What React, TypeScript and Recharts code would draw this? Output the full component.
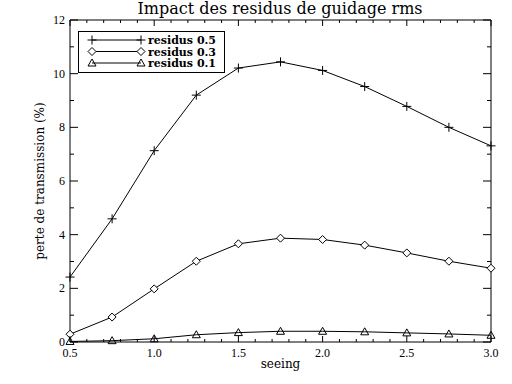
import React from 'react';
import { LineChart, Line, XAxis, YAxis, Legend } from 'recharts';

// seeing (arcsec) on x, transmission loss (%) on y
const seeing = [0.5, 0.75, 1.0, 1.25, 1.5, 1.75, 2.0, 2.25, 2.5, 2.75, 3.0];
const residus05 = [2.42, 4.59, 7.13, 9.2, 10.21, 10.44, 10.12, 9.52, 8.78, 8.0, 7.31];
const residus03 = [0.29, 0.93, 1.98, 3.01, 3.66, 3.87, 3.82, 3.61, 3.32, 3.01, 2.75];
const residus01 = [0.02, 0.05, 0.12, 0.27, 0.35, 0.4, 0.4, 0.38, 0.34, 0.3, 0.25];

const seriesNames = ['residus 0.5', 'residus 0.3', 'residus 0.1'];
const seriesKeys = ['r05', 'r03', 'r01'];
const seriesMarkers = ['plus', 'diamond', 'triangle'];
// all axes share the same domain; spreading the series over them keeps every axis drawn
const seriesXAxis = ['bottom', 'top', 'bottom'];
const seriesYAxis = ['left', 'right', 'left'];

const xMajor = [0.5, 1.0, 1.5, 2.0, 2.5, 3.0];
const xTicks = [
  0.5, 0.6, 0.7, 0.8, 0.9, 1.0, 1.1, 1.2, 1.3, 1.4, 1.5, 1.6, 1.7,
  1.8, 1.9, 2.0, 2.1, 2.2, 2.3, 2.4, 2.5, 2.6, 2.7, 2.8, 2.9, 3.0,
];
const yMajor = [0, 2, 4, 6, 8, 10, 12];
const yTicks = [0, 1, 2, 3, 4, 5, 6, 7, 8, 9, 10, 11, 12];

const data = seeing.map((s, i) => ({
  seeing: s,
  r05: residus05[i],
  r03: residus03[i],
  r01: residus01[i],
}));

const tickFont = { fontFamily: '"Liberation Serif", serif', fontSize: 12, fill: '#000' };

const Marker = ({ shape, cx, cy }: { shape: string; cx: number; cy: number }) => {
  if (cx == null || cy == null) return null;
  if (shape === 'plus') {
    return (
      <g stroke="#000" strokeWidth={1}>
        <line x1={cx - 4.5} x2={cx + 4.5} y1={cy} y2={cy} />
        <line x1={cx} x2={cx} y1={cy - 4.5} y2={cy + 4.5} />
      </g>
    );
  }
  if (shape === 'diamond') {
    return (
      <polygon
        points={`${cx},${cy - 4} ${cx + 4},${cy} ${cx},${cy + 4} ${cx - 4},${cy}`}
        fill="#fff"
        stroke="#000"
      />
    );
  }
  return (
    <polygon
      points={`${cx},${cy - 4} ${cx + 4},${cy + 3} ${cx - 4},${cy + 3}`}
      fill="none"
      stroke="#000"
    />
  );
};

const makeDot = (shape: string) => (props: any) => (
  <Marker key={`${shape}-${props.index}`} shape={shape} cx={props.cx} cy={props.cy} />
);

const BottomTick = (props: any) => {
  const { x, y, payload } = props;
  const major = xMajor.includes(payload.value);
  return (
    <g>
      <line x1={x} x2={x} y1={y} y2={y - (major ? 6 : 3)} stroke="#000" />
      {major && (
        <text x={x} y={y + 15} textAnchor="middle" {...tickFont}>
          {payload.value.toFixed(1)}
        </text>
      )}
    </g>
  );
};

const TopTick = (props: any) => {
  const { x, y, payload } = props;
  const major = xMajor.includes(payload.value);
  return <line x1={x} x2={x} y1={y} y2={y + (major ? 6 : 3)} stroke="#000" />;
};

const LeftTick = (props: any) => {
  const { x, y, payload } = props;
  const major = yMajor.includes(payload.value);
  return (
    <g>
      <line x1={x} x2={x + (major ? 8 : 4)} y1={y} y2={y} stroke="#000" />
      {major && (
        <text x={x - 5} y={y + 4} textAnchor="end" {...tickFont}>
          {payload.value}
        </text>
      )}
    </g>
  );
};

const RightTick = (props: any) => {
  const { x, y, payload } = props;
  const major = yMajor.includes(payload.value);
  return <line x1={x} x2={x - (major ? 8 : 4)} y1={y} y2={y} stroke="#000" />;
};

const LegendBox = () => (
  <svg width={147} height={42} style={{ display: 'block' }}>
    <rect x={0.5} y={0.5} width={146} height={41} fill="#fff" stroke="#000" />
    {seriesNames.map((name, i) => {
      const y = 9 + i * 11.5;
      return (
        <g key={name}>
          <line x1={14} x2={63} y1={y} y2={y} stroke="#000" />
          <Marker shape={seriesMarkers[i]} cx={14} cy={y} />
          <Marker shape={seriesMarkers[i]} cx={63} cy={y} />
          <text
            x={70}
            y={y + 4}
            fontFamily='"DejaVu Serif", serif'
            fontWeight="bold"
            fontSize={11}
            fill="#000"
          >
            {name}
          </text>
        </g>
      );
    })}
  </svg>
);

export default function App() {
  return (
    <div style={{ position: 'absolute', left: 0, top: 0, width: 512, height: 384, background: '#fff' }}>
      <div
        style={{
          position: 'absolute',
          left: 70,
          top: 0,
          width: 420,
          textAlign: 'center',
          fontFamily: '"DejaVu Serif", serif',
          fontSize: 16,
          lineHeight: '18px',
          color: '#000',
          zIndex: 1,
        }}
      >
        Impact des residus de guidage rms
      </div>
      <LineChart
        width={512}
        height={384}
        data={data}
        margin={{ top: 19, right: 20, bottom: 0, left: 0 }}
      >
        <XAxis
          xAxisId="bottom"
          dataKey="seeing"
          type="number"
          domain={[0.5, 3]}
          ticks={xTicks}
          interval={0}
          height={42}
          tickSize={0}
          tickMargin={0}
          tick={<BottomTick />}
          axisLine={{ stroke: '#000' }}
          label={{
            value: 'seeing',
            position: 'insideBottom',
            offset: 16,
            style: { fontFamily: '"DejaVu Serif", serif', fontSize: 12, fill: '#000' },
          }}
        />
        <XAxis
          xAxisId="top"
          dataKey="seeing"
          orientation="top"
          type="number"
          domain={[0.5, 3]}
          ticks={xTicks}
          interval={0}
          height={1}
          tickSize={0}
          tickMargin={0}
          tick={<TopTick />}
          axisLine={{ stroke: '#000' }}
        />
        <YAxis
          yAxisId="left"
          type="number"
          domain={[0, 12]}
          ticks={yTicks}
          interval={0}
          width={70}
          tickSize={0}
          tickMargin={0}
          tick={<LeftTick />}
          axisLine={{ stroke: '#000' }}
          label={{
            value: 'perte de transmission (%)',
            angle: -90,
            position: 'center',
            dx: 5,
            style: { fontFamily: '"DejaVu Serif", serif', fontSize: 12, fill: '#000' },
          }}
        />
        <YAxis
          yAxisId="right"
          orientation="right"
          type="number"
          domain={[0, 12]}
          ticks={yTicks}
          interval={0}
          width={1}
          tickSize={0}
          tickMargin={0}
          tick={<RightTick />}
          axisLine={{ stroke: '#000' }}
        />
        <Legend
          layout="vertical"
          align="center"
          verticalAlign="middle"
          content={<LegendBox />}
          wrapperStyle={{ left: 78, top: 31, width: 147, height: 42 }}
        />
        {seriesKeys.map((k, i) => (
          <Line
            key={k}
            xAxisId={seriesXAxis[i]}
            yAxisId={seriesYAxis[i]}
            dataKey={k}
            name={seriesNames[i]}
            type="linear"
            stroke="#000"
            strokeWidth={1}
            dot={makeDot(seriesMarkers[i])}
            activeDot={false}
            isAnimationActive={false}
          />
        ))}
      </LineChart>
    </div>
  );
}
